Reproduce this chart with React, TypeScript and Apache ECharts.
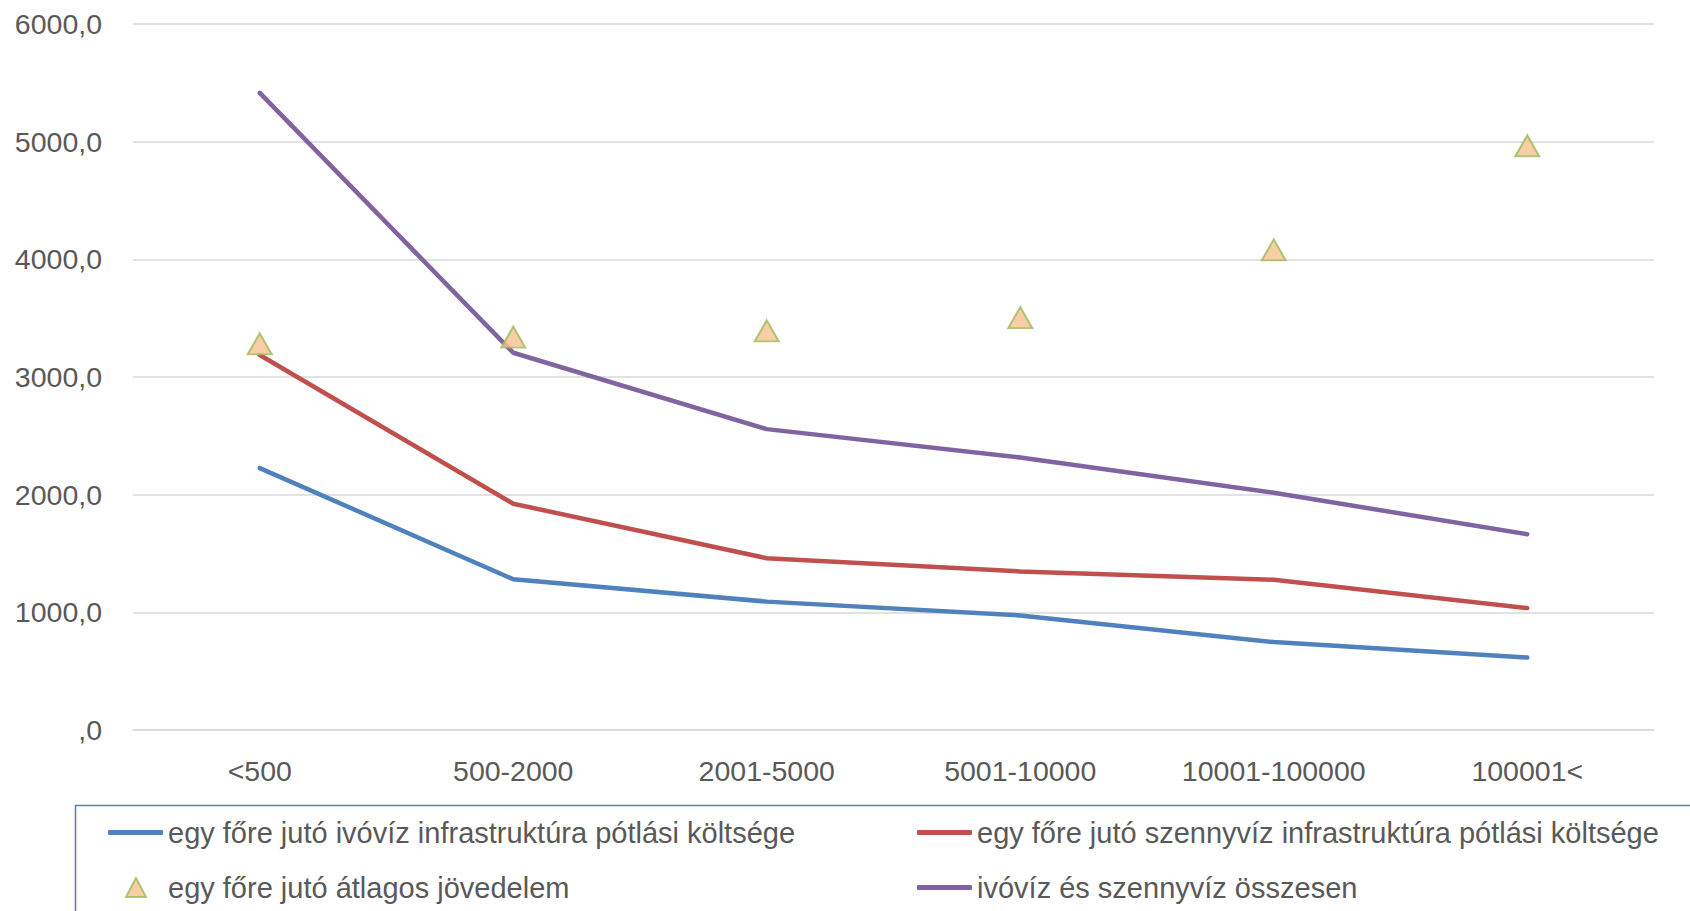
import React, { useEffect, useRef } from "react";
import * as echarts from "echarts";

const categories = ["<500", "500-2000", "2001-5000", "5001-10000", "10001-100000", "100001<"];
const drinkingWater = [2226, 1281, 1091, 974, 747, 616];
const wasteWater = [3187, 1923, 1460, 1348, 1277, 1036];
const avgIncome = [3282, 3339, 3392, 3505, 4080, 4965];
const totalWater = [5415, 3206, 2557, 2315, 2016, 1664];
const yTicks = [0, 1000, 2000, 3000, 4000, 5000, 6000];

const names = [
  "egy főre jutó ivóvíz infrastruktúra pótlási költsége",
  "egy főre jutó szennyvíz infrastruktúra pótlási költsége",
  "egy főre jutó átlagos jövedelem",
  "ivóvíz és szennyvíz összesen",
];

const FONT = "Liberation Sans";
const LABEL = "#595959";

export default function App() {
  const ref = useRef<HTMLDivElement>(null);
  useEffect(() => {
    if (!ref.current) return;
    const chart = echarts.init(ref.current, undefined, { renderer: "svg" });
    const legendText = { color: LABEL, fontSize: 29, fontFamily: FONT };
    chart.setOption({
      animation: false,
      backgroundColor: "#ffffff",
      grid: { left: 133, right: 36, top: 24, bottom: 181 },
      xAxis: {
        type: "category",
        data: categories,
        boundaryGap: true,
        axisTick: { show: false },
        axisLine: { show: true, lineStyle: { color: "#D9D9D9", width: 1.5 } },
        axisLabel: { color: LABEL, fontSize: 28.5, fontFamily: FONT, margin: 26 },
      },
      yAxis: {
        type: "value",
        min: yTicks[0],
        max: yTicks[yTicks.length - 1],
        interval: 1000,
        axisLine: { show: false },
        axisTick: { show: false },
        splitLine: { lineStyle: { color: "#D9D9D9", width: 1.5 } },
        axisLabel: {
          color: LABEL,
          fontSize: 28.5,
          fontFamily: FONT,
          margin: 31,
          formatter: (v: number) => (v === 0 ? ",0" : v.toFixed(1).replace(".", ",")),
        },
      },
      legend: [
        {
          data: [{ name: names[0], icon: "roundRect" }],
          left: 108, top: 818, padding: 0, itemWidth: 55, itemHeight: 5,
          textStyle: legendText, selectedMode: false,
        },
        {
          data: [{ name: names[1], icon: "roundRect" }],
          left: 917, top: 818, padding: 0, itemWidth: 55, itemHeight: 5,
          textStyle: legendText, selectedMode: false,
        },
        {
          data: [{ name: names[2], icon: "triangle" }],
          left: 125, top: 873, padding: 0, itemWidth: 20, itemHeight: 19,
          textStyle: { ...legendText, padding: [0, 0, 0, 17] }, selectedMode: false,
        },
        {
          data: [{ name: names[3], icon: "roundRect" }],
          left: 917, top: 873, padding: 0, itemWidth: 55, itemHeight: 5,
          textStyle: legendText, selectedMode: false,
        },
      ],
      graphic: [
        {
          type: "rect",
          shape: { x: 75.5, y: 805.5, width: 1700, height: 200 },
          style: { fill: "none", stroke: "#4F81BD", lineWidth: 1.5 },
          silent: true,
          z: -1,
        },
      ],
      series: [
        {
          name: names[0], type: "line", data: drinkingWater, symbol: "none",
          color: "#4F81BD", lineStyle: { width: 4.5, color: "#4F81BD", cap: "round" },
        },
        {
          name: names[1], type: "line", data: wasteWater, symbol: "none",
          color: "#C0504D", lineStyle: { width: 4.5, color: "#C0504D", cap: "round" },
        },
        {
          name: names[3], type: "line", data: totalWater, symbol: "none",
          color: "#8064A2", lineStyle: { width: 4.5, color: "#8064A2", cap: "round" },
        },
        {
          name: names[2], type: "scatter", data: avgIncome, symbol: "triangle",
          symbolSize: [24, 21], z: 5,
          itemStyle: { color: "#FAC090", borderColor: "#9BBB59", borderWidth: 2 },
        },
      ],
    });
    return () => chart.dispose();
  }, []);
  return (
    <div
      ref={ref}
      style={{ position: "fixed", left: 0, top: 0, width: 1690, height: 911 }}
    />
  );
}
